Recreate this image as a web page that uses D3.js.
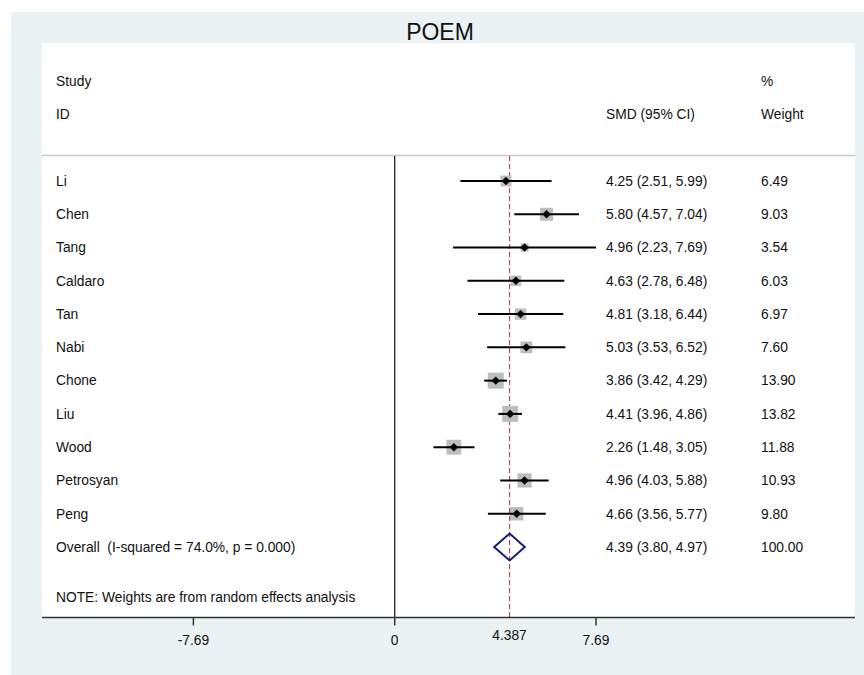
<!DOCTYPE html>
<html>
<head>
<meta charset="utf-8">
<script src="https://cdn.jsdelivr.net/npm/d3@7"></script>
<style>
  html, body { margin: 0; padding: 0; background: #fff; }
  svg { display: block; font-family: "Liberation Sans", Arial, sans-serif; }
  svg text { white-space: pre; }
</style>
</head>
<body>
<svg id="chart" width="864" height="675"></svg>
<script>
// study data
const studies = ["Li", "Chen", "Tang", "Caldaro", "Tan", "Nabi", "Chone", "Liu", "Wood", "Petrosyan", "Peng"];
const smd = [4.25, 5.80, 4.96, 4.63, 4.81, 5.03, 3.86, 4.41, 2.26, 4.96, 4.66];
const lower = [2.51, 4.57, 2.23, 2.78, 3.18, 3.53, 3.42, 3.96, 1.48, 4.03, 3.56];
const upper = [5.99, 7.04, 7.69, 6.48, 6.44, 6.52, 4.29, 4.86, 3.05, 5.88, 5.77];
const weights = [6.49, 9.03, 3.54, 6.03, 6.97, 7.60, 13.90, 13.82, 11.88, 10.93, 9.80];

const overall = { est: 4.39, lo: 3.80, hi: 4.97, weight: 100.00 };
const overallLine = 4.387;
const overallLabel = "Overall  (I-squared = 74.0%, p = 0.000)";
const noteText = "NOTE: Weights are from random effects analysis";
const tickValues = [-7.69, 0, 7.69];

const W = 864, H = 675;
const svg = d3.select("#chart");

// outer panel and plot region
svg.append("rect").attr("x", 11).attr("y", 12).attr("width", W - 11).attr("height", H - 12)
  .attr("fill", "#eaf2f3");
const plotLeft = 42, plotRight = 855, plotTop = 43, plotBottom = 617;
svg.append("rect").attr("x", plotLeft).attr("y", plotTop)
  .attr("width", plotRight - plotLeft).attr("height", plotBottom - plotTop)
  .attr("fill", "#fff");

svg.append("text").attr("x", 440).attr("y", 40).attr("text-anchor", "middle")
  .style("font-size", "23px").attr("fill", "#111").text("POEM");

// scales
const x = d3.scaleLinear().domain([-7.69, 7.69]).range([193.4, 596]);
const y = d3.scaleLinear().domain([0, 11]).range([181, 547]);   // row index -> y
const side = d3.scaleSqrt().domain([0, 13.9]).range([0, 16]);

const fs = "13.8px";
const txt = (xx, yy, s, anchor = "start") =>
  svg.append("text").attr("x", xx).attr("y", yy).attr("dy", "0.35em")
    .attr("text-anchor", anchor).style("font-size", fs).attr("fill", "#111").text(s);

// header
txt(56, 81, "Study");
txt(56, 114, "ID");
txt(606, 114, "SMD (95% CI)");
txt(761, 81, "%");
txt(761, 114, "Weight");

svg.append("line").attr("x1", plotLeft).attr("x2", plotRight).attr("y1", 155.5).attr("y2", 155.5)
  .attr("stroke", "#c8c8c8").attr("stroke-width", 1.5);

// null line and overall line
svg.append("line").attr("x1", x(0)).attr("x2", x(0)).attr("y1", 156).attr("y2", plotBottom)
  .attr("stroke", "#222").attr("stroke-width", 1.3);
svg.append("line").attr("x1", x(overallLine)).attr("x2", x(overallLine)).attr("y1", 156).attr("y2", plotBottom)
  .attr("stroke", "#a04a5a").attr("stroke-width", 1.2).attr("stroke-dasharray", "5,3");

// studies
const g = svg.append("g");
studies.forEach((s, i) => {
  const cy = y(i);
  const sd = side(weights[i]);
  g.append("rect").attr("x", x(smd[i]) - sd / 2).attr("y", cy - sd / 2)
    .attr("width", sd).attr("height", sd).attr("fill", "#bdbdbd");
  g.append("line").attr("x1", x(lower[i])).attr("x2", x(upper[i])).attr("y1", cy).attr("y2", cy)
    .attr("stroke", "#000").attr("stroke-width", 2);
  const d = 4.2;
  g.append("path")
    .attr("d", `M${x(smd[i]) - d},${cy} L${x(smd[i])},${cy - d} L${x(smd[i]) + d},${cy} L${x(smd[i])},${cy + d} Z`)
    .attr("fill", "#000");
  txt(56, cy, s);
  txt(606, cy, `${smd[i].toFixed(2)} (${lower[i].toFixed(2)}, ${upper[i].toFixed(2)})`);
  txt(761, cy, weights[i].toFixed(2));
});

// overall diamond
const oy = y(studies.length);
svg.append("path")
  .attr("d", `M${x(overall.lo)},${oy} L${x(overall.est)},${oy - 13.5} L${x(overall.hi)},${oy} L${x(overall.est)},${oy + 13.5} Z`)
  .attr("fill", "none").attr("stroke", "#1a1a7a").attr("stroke-width", 2);
txt(56, oy, overallLabel);
txt(606, oy, `${overall.est.toFixed(2)} (${overall.lo.toFixed(2)}, ${overall.hi.toFixed(2)})`);
txt(761, oy, overall.weight.toFixed(2));

txt(56, y(studies.length + 1.5), noteText);

// x axis
const axis = svg.append("g").attr("transform", `translate(0,${plotBottom + 0.5})`);
axis.append("line").attr("x1", plotLeft).attr("x2", plotRight).attr("stroke", "#333").attr("stroke-width", 1.5);
axis.selectAll("line.tick").data(tickValues).join("line").attr("class", "tick")
  .attr("x1", d => x(d)).attr("x2", d => x(d)).attr("y1", 0).attr("y2", 8)
  .attr("stroke", "#333").attr("stroke-width", 1.5);
axis.selectAll("text.tick").data(tickValues).join("text").attr("class", "tick")
  .attr("x", d => x(d)).attr("y", 23).attr("dy", "0.35em").attr("text-anchor", "middle")
  .style("font-size", fs).attr("fill", "#111").text(d => d === 0 ? "0" : d.toFixed(2));
axis.append("text").attr("x", x(overallLine)).attr("y", 18).attr("dy", "0.35em")
  .attr("text-anchor", "middle").style("font-size", fs).attr("fill", "#111").text(overallLine);
</script>
</body>
</html>
